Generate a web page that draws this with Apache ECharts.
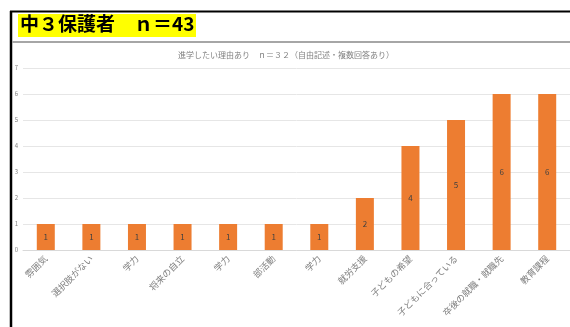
<!DOCTYPE html>
<html>
<head>
<meta charset="utf-8">
<script src="https://cdn.jsdelivr.net/npm/echarts@6/dist/echarts.min.js"></script>
<style>
html,body{margin:0;padding:0;background:#fff;}
#chart{width:570px;height:327px;}
</style>
</head>
<body>
<div id="chart"></div>
<script>
// 進学したい理由（中３保護者）
const categories = ['雰囲気', '選択肢がない', '学力', '将来の自立', '学力', '部活動', '学力', '就労支援', '子どもの希望', '子どもに合っている', '卒後の就職・就職先', '教育課程'];
const counts = [1, 1, 1, 1, 1, 1, 1, 2, 4, 5, 6, 6];
const yTicks = [0, 1, 2, 3, 4, 5, 6, 7];
const headerText = '中３保護者　ｎ＝43';
const subtitleText = '進学したい理由あり　ｎ＝３２（自由記述・複数回答あり）';

const FONT = '"Noto Sans CJK JP", "Noto Sans", sans-serif';
const chart = echarts.init(document.getElementById('chart'), null, {renderer: 'canvas'});

chart.setOption({
  animation: false,
  backgroundColor: '#ffffff',
  title: {
    text: subtitleText,
    left: 281,
    textAlign: 'center',
    top: 46,
    textStyle: {fontFamily: FONT, fontSize: 8, fontWeight: 'normal', color: '#7f7f7f'}
  },
  grid: {left: 23, top: 68, width: 549, bottom: 77, containLabel: false},
  xAxis: {
    type: 'category',
    data: categories,
    axisTick: {show: false},
    axisLine: {show: true, lineStyle: {color: '#d9d9d9', width: 1}},
    axisLabel: {
      rotate: 45,
      interval: 0,
      margin: 7,
      fontFamily: FONT,
      fontSize: 9,
      color: '#7f7f7f'
    }
  },
  yAxis: {
    type: 'value',
    min: yTicks[0],
    max: yTicks[yTicks.length - 1],
    interval: 1,
    axisLine: {show: false},
    axisTick: {show: false},
    axisLabel: {fontFamily: FONT, fontSize: 6, color: '#7f7f7f', margin: 5},
    splitLine: {lineStyle: {color: '#e6e6e6', width: 1}}
  },
  series: [{
    type: 'bar',
    data: counts,
    barWidth: 18,
    itemStyle: {color: '#ED7D31'},
    label: {
      show: true,
      position: 'inside',
      fontFamily: FONT,
      fontSize: 8,
      color: '#404040'
    }
  }],
  graphic: [
    // 外枠（上・左）
    {type: 'line', shape: {x1: 10, y1: 11.5, x2: 570, y2: 11.5}, style: {stroke: '#000', lineWidth: 2}, z: 10},
    {type: 'line', shape: {x1: 11, y1: 11, x2: 11, y2: 327}, style: {stroke: '#000', lineWidth: 2.5}, z: 10},
    // 見出しの下線
    {type: 'line', shape: {x1: 12, y1: 42, x2: 570, y2: 42}, style: {stroke: '#a6a6a6', lineWidth: 2}, z: 10},
    // 見出し
    {type: 'rect', shape: {x: 18, y: 14, width: 178, height: 23}, style: {fill: '#ffff00'}, z: 10},
    {
      type: 'text', left: 20, top: 14, z: 11,
      style: {text: headerText, fontFamily: FONT, fontSize: 19, fontWeight: 'bold', fill: '#000', textVerticalAlign: 'top'}
    }
  ]
});
</script>
</body>
</html>
